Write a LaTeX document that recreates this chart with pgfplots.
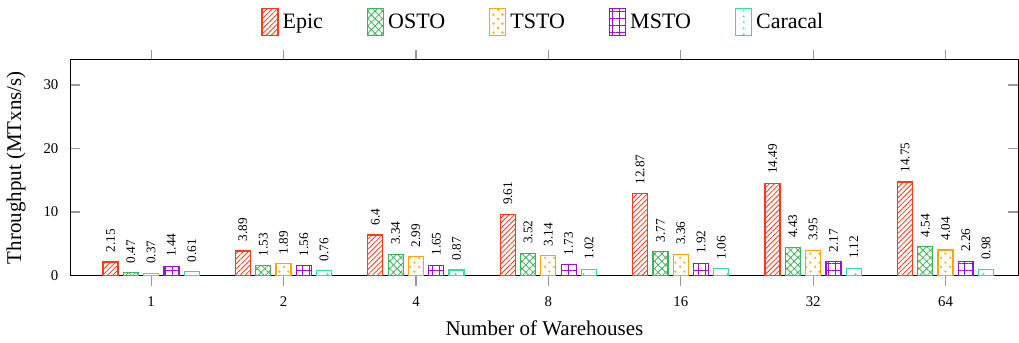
\documentclass[border=0pt]{standalone}
\usepackage{pgfplots}
\pgfplotsset{compat=1.18}
\usepackage{fontspec}
\setmainfont{Liberation Serif}
\usetikzlibrary{patterns,patterns.meta}

\definecolor{cEpic}{HTML}{FF3A1A}
\definecolor{cOSTO}{HTML}{3CB45A}
\definecolor{cTSTO}{HTML}{FFA500}
\definecolor{cMSTO}{HTML}{9B10D8}
\definecolor{cCar}{HTML}{2EDDA8}

% offset dots for TSTO
\pgfdeclarepatternformonly{tsto dots}{\pgfqpoint{0pt}{0pt}}{\pgfqpoint{4.6pt}{4.6pt}}{\pgfqpoint{4.6pt}{4.6pt}}{%
  \pgfpathcircle{\pgfqpoint{1.15pt}{1.15pt}}{0.65pt}%
  \pgfpathcircle{\pgfqpoint{3.45pt}{3.45pt}}{0.65pt}%
  \pgfusepath{fill}}
% sparse columns of dots for Caracal
\pgfdeclarepatternformonly{caracal dots}{\pgfqpoint{0pt}{0pt}}{\pgfqpoint{8pt}{3pt}}{\pgfqpoint{8pt}{3pt}}{%
  \pgfpathcircle{\pgfqpoint{4pt}{1.5pt}}{0.55pt}%
  \pgfusepath{fill}}

\pgfplotstableread{
x Epic OSTO TSTO MSTO Caracal
0 2.15 0.47 0.37 1.44 0.61
1 3.89 1.53 1.89 1.56 0.76
2 6.4 3.34 2.99 1.65 0.87
3 9.61 3.52 3.14 1.73 1.02
4 12.87 3.77 3.36 1.92 1.06
5 14.49 4.43 3.95 2.17 1.12
6 14.75 4.54 4.04 2.26 0.98
}\datatable

\begin{document}
\begin{tikzpicture}
\begin{axis}[
  scale only axis,
  width=474pt, height=108pt,
  ybar=2.65pt, bar width=7.5pt,
  xmin=-0.61, xmax=6.55,
  ymin=0, ymax=34,
  xtick={0,1,2,3,4,5,6},
  xticklabels={1,2,4,8,16,32,64},
  ytick={0,10,20,30},
  xtick align=outside,
  ytick align=inside,
  major tick length=5pt,
  tick style={gray!80, line width=0.6pt},
  axis line style={black, line width=0.6pt},
  tick label style={font=\fontsize{7.4}{8}\selectfont},
  xticklabel style={yshift=-2pt},
  yticklabel style={xshift=-2.5pt},
  /pgf/number format/assume math mode=true,
  xlabel={Number of Warehouses},
  ylabel={Throughput (MTxns/s)},
  xlabel shift=0pt,
  ylabel shift=2pt,
  label style={font=\fontsize{10.5}{12}\selectfont},
  every axis plot/.append style={line width=0.6pt},
  nodes near coords={\pgfmathprintnumber[fixed,precision=2]{\pgfplotspointmeta}},
  every node near coord/.append style={rotate=90, anchor=west, black,
    font=\fontsize{6.6}{7}\selectfont, inner sep=4.5pt},
  legend columns=5,
  legend style={draw=none, at={(0.5,1)}, anchor=south, yshift=7.5pt,
    inner ysep=4pt,
    font=\fontsize{11}{12}\selectfont,
    /tikz/every even column/.append style={column sep=20pt}},
  legend image code/.code={\draw[#1] (0pt,-6.5pt) rectangle (8pt,7pt);},
]
\addplot[draw=cEpic, pattern={Lines[angle=45,distance=1.8pt,line width=0.4pt]}, pattern color=cEpic]
  table[x=x, y=Epic] {\datatable};
\addplot[draw=cOSTO, pattern={Hatch[angle=45,distance=2.6pt,line width=0.4pt]}, pattern color=cOSTO]
  table[x=x, y=OSTO] {\datatable};
\addplot[draw=cTSTO, pattern=tsto dots, pattern color=cTSTO]
  table[x=x, y=TSTO] {\datatable};
\addplot[draw=cMSTO, pattern={Hatch[angle=0,distance=3.6pt,line width=0.45pt]}, pattern color=cMSTO]
  table[x=x, y=MSTO] {\datatable};
\addplot[draw=cCar, pattern=caracal dots, pattern color=cCar]
  table[x=x, y=Caracal] {\datatable};
\legend{Epic, OSTO, TSTO, MSTO, Caracal}
\end{axis}
\end{tikzpicture}
\end{document}
